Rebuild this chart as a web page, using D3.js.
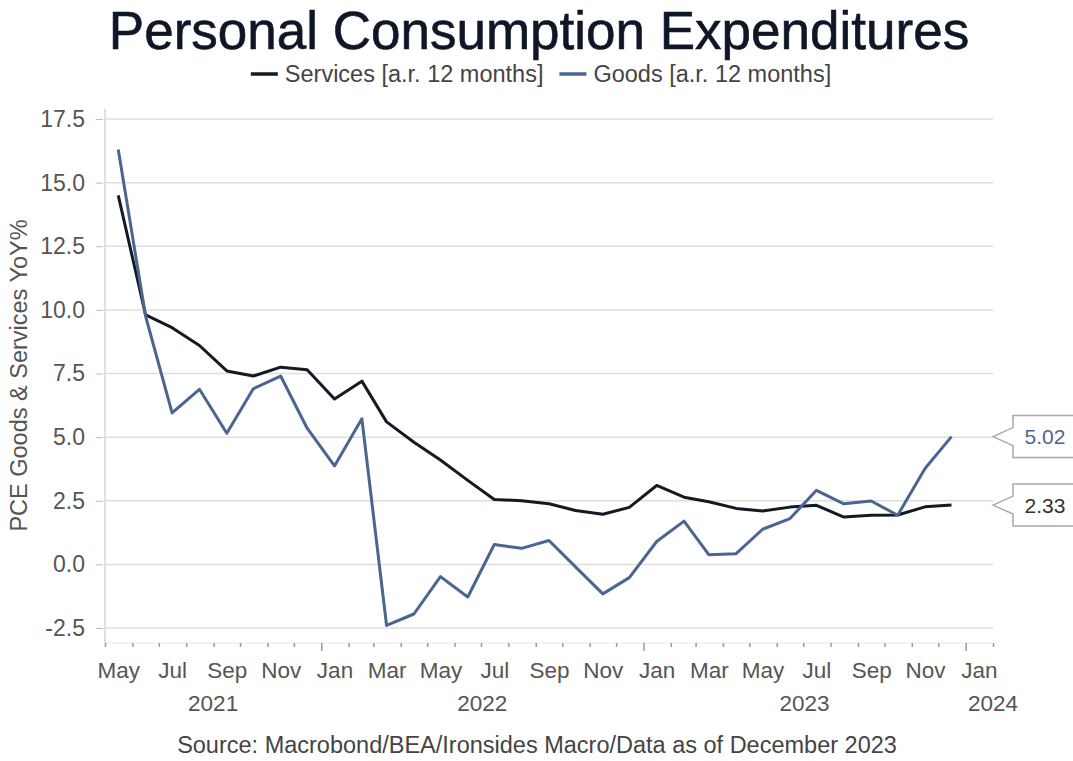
<!DOCTYPE html>
<html>
<head>
<meta charset="utf-8">
<script src="https://cdn.jsdelivr.net/npm/d3@7"></script>
<style>
  body { margin: 0; background: #fff; }
  svg text { font-family: "Liberation Sans", Arial, sans-serif; }
</style>
</head>
<body>
<div id="wrapper"></div>
<script>
const months = [
  '2021-05', '2021-06', '2021-07', '2021-08', '2021-09', '2021-10', '2021-11', '2021-12',
  '2022-01', '2022-02', '2022-03', '2022-04', '2022-05', '2022-06', '2022-07', '2022-08',
  '2022-09', '2022-10', '2022-11', '2022-12', '2023-01', '2023-02', '2023-03', '2023-04',
  '2023-05', '2023-06', '2023-07', '2023-08', '2023-09', '2023-10', '2023-11', '2023-12'
];
const services = [
  14.5, 9.8, 9.3, 8.6, 7.6, 7.4, 7.75, 7.65,
  6.5, 7.2, 5.6, 4.8, 4.1, 3.3, 2.55, 2.5,
  2.38, 2.12, 1.97, 2.24, 3.1, 2.64, 2.46, 2.2,
  2.1, 2.25, 2.32, 1.86, 1.93, 1.94, 2.26, 2.33
];
const goods = [
  16.3, 9.75, 5.95, 6.88, 5.15, 6.9, 7.4, 5.35,
  3.87, 5.72, -2.4, -1.95, -0.48, -1.28, 0.78, 0.63,
  0.94, -0.1, -1.16, -0.52, 0.9, 1.7, 0.38, 0.42,
  1.38, 1.8, 2.91, 2.38, 2.49, 1.93, 3.77, 5.02
];
const yTicks = [-2.5, 0, 2.5, 5, 7.5, 10, 12.5, 15, 17.5];
const seriesNames = ['Services [a.r. 12 months]', 'Goods [a.r. 12 months]'];
const seriesColors = ['#131a24', '#4b6592'];

const width = 1073, height = 761;
const plot = { left: 105, right: 993, top: 119, bottom: 628, axisY: 643 };
const font = '"Liberation Sans", Arial, sans-serif';

const parse = d3.timeParse('%Y-%m');
const mid = (d) => d3.timeDay.offset(parse(d), 15);

const x = d3.scaleTime()
  .domain([ new Date(2021, 4, 1), new Date(2024, 1, 1) ])
  .range([ plot.left, plot.right ]);

const y = d3.scaleLinear()
  .domain([ -2.5, 17.5 ])
  .range([ plot.bottom, plot.top ]);

const svg = d3.select('#wrapper').append('svg').attr('width', width).attr('height', height);

// title + legend
svg.append('text')
  .attr('x', 539).attr('y', 49)
  .attr('text-anchor', 'middle')
  .attr('font-size', 53)
  .attr('fill', '#0e1628')
  .attr('stroke', '#0e1628').attr('stroke-width', 0.6)
  .text('Personal Consumption Expenditures');

const legend = svg.append('g').attr('transform', 'translate(0, 73)');
let lx = 0;
seriesNames.forEach((name, i) => {
  const g = legend.append('g').attr('transform', `translate(${lx}, 0)`);
  g.append('line').attr('x1', 0).attr('x2', 27).attr('y1', 0).attr('y2', 0)
    .attr('stroke', seriesColors[i]).attr('stroke-width', 3.5);
  const t = g.append('text').attr('x', 34).attr('y', 8)
    .attr('font-size', 23.5).attr('fill', '#444')
    .text(name);
  lx += 34 + t.node().getComputedTextLength() + 16;
});
legend.attr('transform', `translate(${541 - (lx - 16) / 2}, 74)`);

// grid
svg.append('g')
  .selectAll('line')
  .data(yTicks)
  .join('line')
  .attr('x1', plot.left).attr('x2', plot.right)
  .attr('y1', (d) => y(d)).attr('y2', (d) => y(d))
  .attr('stroke', '#dedede').attr('stroke-width', 1.5);

svg.append('line')
  .attr('x1', plot.left).attr('x2', plot.left)
  .attr('y1', plot.top - 10).attr('y2', plot.axisY)
  .attr('stroke', '#d6d6d6').attr('stroke-width', 1.5);

svg.append('line')
  .attr('x1', plot.left).attr('x2', plot.right)
  .attr('y1', plot.axisY).attr('y2', plot.axisY)
  .attr('stroke', '#e8e8e8').attr('stroke-width', 1);

// y axis
const yAxis = svg.append('g')
  .attr('transform', `translate(${plot.left - 2}, 0)`)
  .call(d3.axisLeft(y).tickValues(yTicks).tickSize(7).tickPadding(11).tickFormat((d) => d.toFixed(1)));
yAxis.select('.domain').remove();
yAxis.selectAll('line').attr('stroke', '#bbb');
yAxis.selectAll('text').attr('font-size', 23).attr('fill', '#555').attr('font-family', font);

svg.append('text')
  .attr('transform', `translate(27, ${(plot.top + plot.bottom) / 2 + 2}) rotate(-90)`)
  .attr('text-anchor', 'middle')
  .attr('font-size', 23.5)
  .attr('fill', '#555')
  .text('PCE Goods & Services YoY%');

// x axis: minor month ticks, major Jan ticks, labels
const monthStarts = d3.timeMonth.range(new Date(2021, 4, 1), new Date(2024, 1, 2));
const minor = svg.append('g')
  .attr('transform', `translate(0, ${plot.axisY})`)
  .call(d3.axisBottom(x).tickValues(monthStarts.filter((d) => d.getMonth() !== 0)).tickSize(4).tickFormat(''));
minor.select('.domain').remove();
minor.selectAll('line').attr('stroke', '#999').attr('stroke-width', 1.5);

const major = svg.append('g')
  .attr('transform', `translate(0, ${plot.axisY})`)
  .call(d3.axisBottom(x).tickValues(monthStarts.filter((d) => d.getMonth() === 0)).tickSize(8).tickFormat(''));
major.select('.domain').remove();
major.selectAll('line').attr('stroke', '#999').attr('stroke-width', 1.5);

const labelMonths = monthStarts.filter((d, i) => i % 2 === 0).map((d) => d3.timeDay.offset(d, 15));
const labels = svg.append('g')
  .attr('transform', `translate(0, ${plot.axisY})`)
  .call(d3.axisBottom(x).tickValues(labelMonths).tickSize(0).tickPadding(19).tickFormat(d3.timeFormat('%b')));
labels.select('.domain').remove();
labels.selectAll('text').attr('font-size', 22.5).attr('fill', '#555').attr('font-family', font);

const years = [2021, 2022, 2023, 2024];
svg.append('g')
  .selectAll('text')
  .data(years)
  .join('text')
  .attr('x', (d) => {
    const a = Math.max(x(new Date(d, 0, 1)), plot.left);
    const b = Math.min(x(new Date(d + 1, 0, 1)), plot.right);
    return d === 2024 ? b : (a + b) / 2;
  })
  .attr('y', 711)
  .attr('text-anchor', 'middle')
  .attr('font-size', 22.5)
  .attr('fill', '#555')
  .text((d) => d);

// lines
const line = d3.line().x((d) => x(mid(d.month))).y((d) => y(d.value));
[services, goods].forEach((vals, i) => {
  const data = vals.map((v, j) => ({ month: months[j], value: v }));
  svg.append('path')
    .datum(data)
    .attr('fill', 'none')
    .attr('stroke', seriesColors[i])
    .attr('stroke-width', 3)
    .attr('stroke-linejoin', 'round')
    .attr('d', line);
});

// end-value callouts
const lastIdx = months.length - 1;
[ { v: goods[lastIdx], c: '#4b6592' }, { v: services[lastIdx], c: '#333' } ].forEach((d) => {
  const yy = y(d.v);
  const tip = plot.right;
  svg.append('path')
    .attr('d', `M${tip},${yy} L${tip + 20},${yy - 9} L${tip + 20},${yy - 21} L${width + 5},${yy - 21} L${width + 5},${yy + 21} L${tip + 20},${yy + 21} L${tip + 20},${yy + 9} Z`)
    .attr('fill', '#fff')
    .attr('stroke', '#a8a8a8')
    .attr('stroke-width', 1.5);
  svg.append('text')
    .attr('x', 1045).attr('y', yy + 7.5)
    .attr('text-anchor', 'middle')
    .attr('font-size', 21)
    .attr('fill', d.c)
    .text(d.v.toFixed(2));
});

svg.append('text')
  .attr('x', 537).attr('y', 753)
  .attr('text-anchor', 'middle')
  .attr('font-size', 23.5)
  .attr('fill', '#444')
  .text('Source: Macrobond/BEA/Ironsides Macro/Data as of December 2023');
</script>
</body>
</html>
